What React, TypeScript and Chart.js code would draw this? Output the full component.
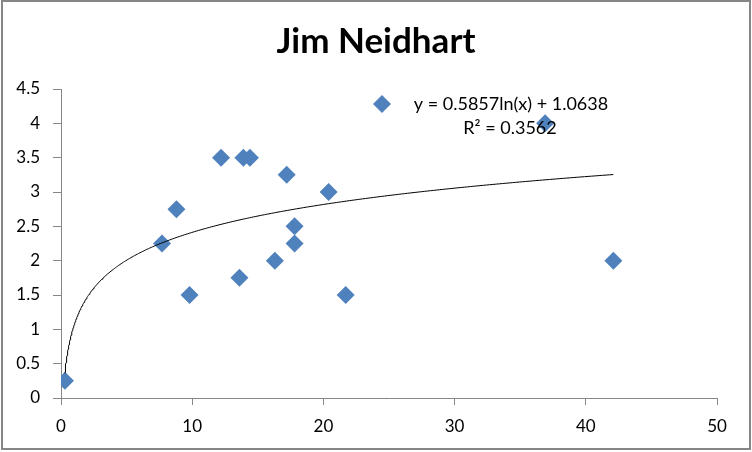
import React, { useEffect, useRef } from "react";
import { Chart, registerables } from "chart.js";

Chart.register(...registerables);

const TITLE = "Jim Neidhart";
const xValues = [0.3, 7.7, 8.8, 9.8, 12.2, 13.6, 13.9, 14.4, 16.3, 17.2, 17.8, 17.8, 20.4, 21.7, 36.9, 42.1];
const yValues = [0.25, 2.25, 2.75, 1.5, 3.5, 1.75, 3.5, 3.5, 2.0, 3.25, 2.5, 2.25, 3.0, 1.5, 4.0, 2.0];
const trendSlope = 0.5857;
const trendIntercept = 1.0638;
const trendR2 = "0.3562";
const trendLabel = "y = 0.5857ln(x) + 1.0638";
const r2Label = "R² = " + trendR2;
const FONT = "Lato, 'Open Sans', sans-serif";
const BLUE = "#4F81BD";
const GRAY = "#868686";

function buildTrend() {
  const minX = Math.min(...xValues);
  const maxX = Math.max(...xValues);
  const pts: { x: number; y: number }[] = [];
  const n = 300;
  for (let i = 0; i <= n; i++) {
    const t = Math.pow(i / n, 2);
    const x = minX + (maxX - minX) * t;
    pts.push({ x, y: trendSlope * Math.log(x) + trendIntercept });
  }
  return pts;
}

const decorPlugin = {
  id: "decor",
  afterDraw(chart: any) {
    const ctx = chart.ctx;
    ctx.save();
    ctx.strokeStyle = GRAY;
    ctx.lineWidth = 2;
    ctx.strokeRect(2, 1, 748, 448);
    const mx = 382, my = 104, r = 9;
    ctx.fillStyle = BLUE;
    ctx.beginPath();
    ctx.moveTo(mx, my - r);
    ctx.lineTo(mx + r, my);
    ctx.lineTo(mx, my + r);
    ctx.lineTo(mx - r, my);
    ctx.closePath();
    ctx.fill();
    ctx.fillStyle = "#000";
    ctx.font = `18px ${FONT}`;
    ctx.textAlign = "center";
    ctx.textBaseline = "middle";
    ctx.fillText(trendLabel, 511, 104);
    ctx.fillText(r2Label, 510, 128);
    ctx.restore();
  },
};

export default function App() {
  const ref = useRef<HTMLCanvasElement>(null);
  useEffect(() => {
    document.body.style.margin = "0";
    const chart = new Chart(ref.current!, {
      type: "scatter",
      data: {
        datasets: [
          {
            label: "trend",
            data: buildTrend(),
            showLine: true,
            borderColor: "#000",
            borderWidth: 1,
            pointRadius: 0,
            fill: false,
            order: 0,
          } as any,
          {
            label: "data",
            data: xValues.map((x, i) => ({ x, y: yValues[i] })),
            pointStyle: "rectRot",
            pointRadius: 9,
            pointBackgroundColor: BLUE,
            pointBorderColor: BLUE,
            pointBorderWidth: 0,
            order: 1,
          },
        ],
      },
      options: {
        animation: false,
        responsive: false,
        maintainAspectRatio: false,
        layout: { padding: { left: 0, right: 0, top: 0, bottom: 0 } },
        plugins: {
          legend: { display: false },
          tooltip: { enabled: false },
          title: {
            display: true,
            text: TITLE,
            color: "#000",
            font: { family: FONT, size: 35, weight: "bold" },
            padding: { top: 21, bottom: 26 },
          },
        },
        scales: {
          x: {
            type: "linear",
            min: 0,
            max: 50,
            ticks: { stepSize: 10, color: "#000", font: { family: FONT, size: 17 }, padding: 11 },
            grid: { display: true, drawOnChartArea: false, drawTicks: true, tickLength: 7, color: GRAY },
            border: { display: true, color: GRAY },
            afterFit: (s: any) => { s.height = 54; },
          },
          y: {
            type: "linear",
            min: 0,
            max: 4.5,
            ticks: {
              stepSize: 0.5,
              color: "#000",
              font: { family: FONT, size: 17 },
              padding: 13,
              callback: (v: any) => String(Number(v)),
            },
            grid: { display: true, drawOnChartArea: false, drawTicks: true, tickLength: 8, color: GRAY },
            border: { display: true, color: GRAY },
            afterFit: (s: any) => { s.width = 61; },
          },
          yRight: {
            type: "linear",
            position: "right",
            display: true,
            min: 0,
            max: 4.5,
            ticks: { display: false },
            grid: { display: false, drawTicks: false },
            border: { display: false },
            afterFit: (s: any) => { s.width = 35; },
          },
        },
      },
      plugins: [decorPlugin],
    });
    return () => chart.destroy();
  }, []);
  return (
    <div style={{ width: 752, height: 452 }}>
      <canvas ref={ref} width={752} height={452} style={{ display: "block" }} />
    </div>
  );
}
